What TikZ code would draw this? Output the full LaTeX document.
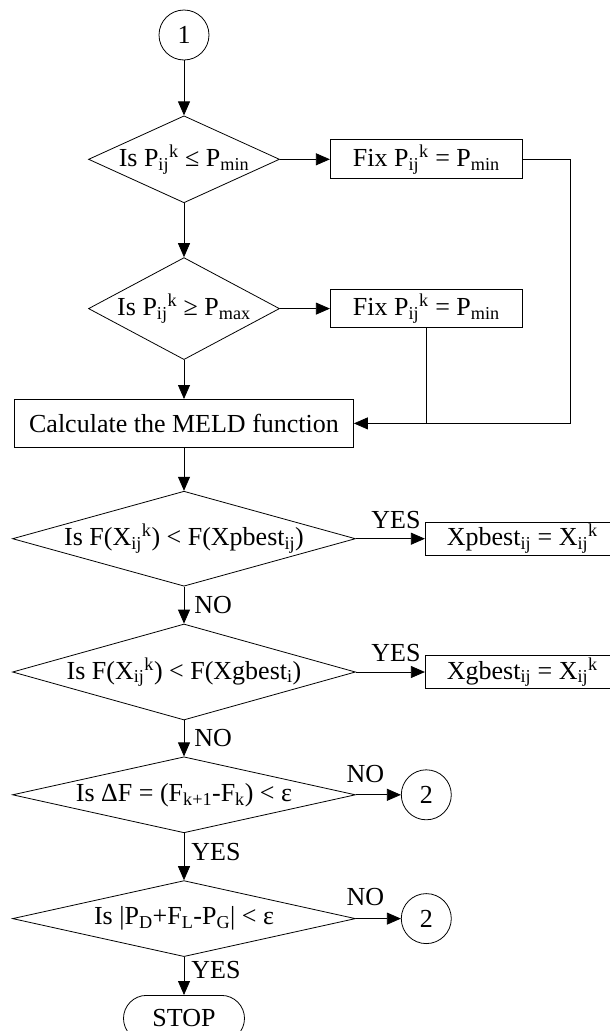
\documentclass[tikz,border=0pt]{standalone}
\usepackage{fontspec}
\setmainfont{Liberation Serif}
\usetikzlibrary{positioning, arrows.meta, shapes.geometric}

\newcommand{\subs}[1]{\textsubscript{#1}}
\newcommand{\sups}[1]{\textsuperscript{#1}}

\begin{document}
\begin{tikzpicture}[
    x=1pt, y=-1pt,
    font=\fontsize{26}{30}\selectfont, node distance=40pt and 50pt,
    decision/.style={diamond, draw=black, line width=0.8pt, inner sep=-3pt, align=center},
    proc/.style={rectangle, draw=black, line width=0.8pt, inner sep=0pt, align=center},
    conn/.style={circle, draw=black, line width=0.8pt, minimum size=50pt, inner sep=0pt},
    term/.style={rectangle, rounded corners=23pt, draw=black, line width=0.8pt,
                 minimum width=121pt, minimum height=46pt, inner sep=0pt},
    flow/.style={-{Triangle[length=14pt, width=12pt]}, line width=0.8pt, draw=black},
    plain/.style={line width=0.8pt, draw=black},
    lbl/.style={inner sep=2pt}
]
\useasboundingbox (0,0) rectangle (610,1031);
\node[conn] (c1) at (184,35) {1};
\node[decision, aspect=2.2, minimum width=191pt, minimum height=87pt, below=55pt of c1] (d1)
      {Is P\subs{ij}\sups{k} ≤ P\subs{min}};
\node[proc, minimum width=192pt, minimum height=39pt, right=50pt of d1] (fix1)
      {Fix P\subs{ij}\sups{k} = P\subs{min}};
\node[decision, aspect=1.9, minimum width=191pt, minimum height=102pt, below=54pt of d1] (d2)
      {Is P\subs{ij}\sups{k} ≥ P\subs{max}};
\node[proc, minimum width=192pt, minimum height=38pt, right=50pt of d2] (fix2)
      {Fix P\subs{ij}\sups{k} = P\subs{min}};
\node[proc, minimum width=339pt, minimum height=48pt, below=39pt of d2] (calc)
      {Calculate the MELD function};
\node[decision, aspect=3.6, minimum width=343pt, minimum height=95pt, below=43pt of calc] (d3)
      {Is F(X\subs{ij}\sups{k}) < F(Xpbest\subs{ij})};
\node[proc, minimum width=194pt, minimum height=33pt, right=69pt of d3] (xp)
      {Xpbest\subs{ij} = X\subs{ij}\sups{k}};
\node[decision, aspect=3.6, minimum width=343pt, minimum height=96pt, below=37pt of d3] (d4)
      {Is F(X\subs{ij}\sups{k}) < F(Xgbest\subs{i})};
\node[proc, minimum width=194pt, minimum height=33pt, right=69pt of d4] (xg)
      {Xgbest\subs{ij} = X\subs{ij}\sups{k}};
\node[decision, aspect=4.5, minimum width=343pt, minimum height=76pt, below=36pt of d4] (d5)
      {Is ΔF = (F\subs{k+1}-F\subs{k}) < ε};
\node[conn, right=45pt of d5] (c2a) {2};
\node[decision, aspect=4.5, minimum width=343pt, minimum height=76pt, below=47pt of d5] (d6)
      {Is |P\subs{D}+F\subs{L}-P\subs{G}| < ε};
\node[conn, right=45pt of d6] (c2b) {2};
\node[term, below=38pt of d6] (stop) {STOP};
\coordinate[right=48pt of fix1] (turn);

\foreach \a/\b in {c1/d1, d1/d2, d2/calc, calc/d3, d1/fix1, d2/fix2}{\draw[flow] (\a)--(\b);}
\draw[flow] (fix1) -- (turn) |- (calc);
\draw[plain] (fix2) -- (fix2 |- calc);
\draw[flow] (d3) -- node[lbl, above=8pt, pos=0.58] {YES} (xp);
\draw[flow] (d4) -- node[lbl, above=8pt, pos=0.58] {YES} (xg);
\draw[flow] (d3) -- node[lbl, right=8pt] {NO} (d4);
\draw[flow] (d4) -- node[lbl, right=8pt] {NO} (d5);
\draw[flow] (d5) -- node[lbl, above=10pt, pos=0.21] {NO} (c2a);
\draw[flow] (d6) -- node[lbl, above=10pt, pos=0.21] {NO} (c2b);
\draw[flow] (d5) -- node[lbl, right=5pt, pos=0.4] {YES} (d6);
\draw[flow] (d6) -- node[lbl, right=5pt, pos=0.35] {YES} (stop);
\end{tikzpicture}
\end{document}
